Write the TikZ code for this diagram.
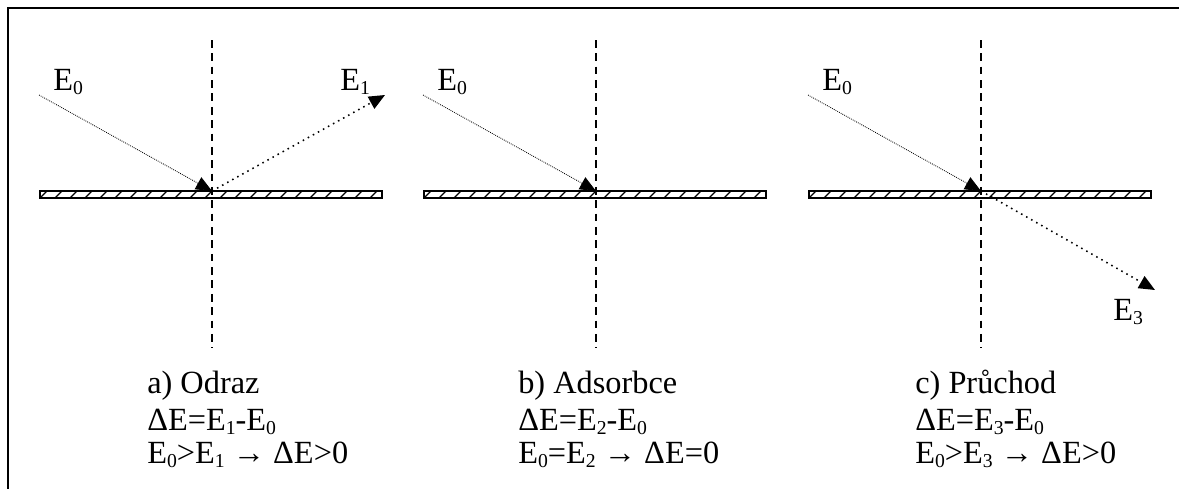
\documentclass[tikz,border=0pt]{standalone}
\usepackage{fontspec}
\setmainfont{Liberation Serif}
\usetikzlibrary{arrows.meta, positioning}
\newcommand{\ix}[1]{\raisebox{-0.3ex}{\fontsize{14}{14}\selectfont #1}}

\begin{document}
\begin{tikzpicture}[
  x=0.025cm, y=-0.025cm,
  >={Triangle[length=4mm, width=3.4mm]},
  axis/.style={line width=0.8pt, dash pattern=on 5.5pt off 4pt},
  plate/.style={draw, line width=1pt},
  hatch/.style={line width=0.9pt},
  inray/.style={->, line width=0.6pt, dash pattern=on 0.6pt off 0.8pt},
  outray/.style={->, line width=1.1pt, dash pattern=on 1.1pt off 3pt},
  lbl/.style={font=\fontsize{23}{24}\selectfont, inner sep=0pt, anchor=base west}
]
  \useasboundingbox (0,0) rectangle (1179,489);
  \draw[line width=1.5pt] (1179,8) -- (8,8) -- (8,489);

  %---------------- COMMON: axis, plate, incoming ray ----------------%
  \foreach \p/\cx in {a/212, b/596, c/981} {
    \begin{scope}[shift={(\cx,0)}]
      \draw[axis] (0,40) -- (0,348);
      \begin{scope}
        \clip (-172,191) rectangle (170,198);
        \foreach \h in {-172,-157,...,170}
          \draw[hatch] (\h,198) -- (\h+7,191);
      \end{scope}
      \draw[plate] (-172,191) rectangle (170,198);
      \coordinate (\p-hit) at (0,191);
      \coordinate (\p-src) at (-173,95);
      \node[lbl] (\p-e0) at (-159,90) {E\ix{0}};
      \draw[inray] (\p-src) -- (\p-hit);
    \end{scope}
  }

  %---------------- a) reflection ----------------%
  \coordinate (a-dst) at (385,95);
  \draw[outray] (a-hit) -- (a-dst);
  \node[lbl] (e1) at (340,90) {E\ix{1}};

  %---------------- c) transmission ----------------%
  \coordinate (c-dst) at (1155,290);
  \draw[outray] (c-hit) -- (c-dst);
  \node[lbl] (e3) at (1113,320) {E\ix{3}};

  %---------------- captions ----------------%
  \node[lbl] (a-title) at (147,393) {a) Odraz};
  \node[lbl] (a-delta) at (147,430) {ΔE=E\ix{1}-E\ix{0}};
  \node[lbl] (a-rule) at (147,463) {E\ix{0}>E\ix{1} → ΔE>0};

  \node[lbl] (b-title) at (518,393) {b) Adsorbce};
  \node[lbl] (b-delta) at (518,430) {ΔE=E\ix{2}-E\ix{0}};
  \node[lbl] (b-rule) at (518,463) {E\ix{0}=E\ix{2} → ΔE=0};

  \node[lbl] (c-title) at (915,393) {c) Průchod};
  \node[lbl] (c-delta) at (915,430) {ΔE=E\ix{3}-E\ix{0}};
  \node[lbl] (c-rule) at (915,463) {E\ix{0}>E\ix{3} → ΔE>0};
\end{tikzpicture}
\end{document}
